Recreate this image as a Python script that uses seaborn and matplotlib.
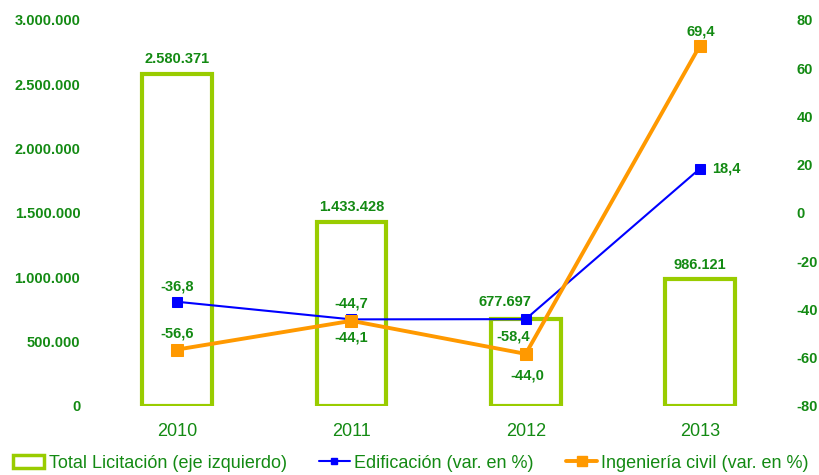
import matplotlib
matplotlib.use("Agg")
import matplotlib.pyplot as plt
import numpy as np
import seaborn as sns
from matplotlib.lines import Line2D
from matplotlib.patches import Patch
from matplotlib.ticker import FuncFormatter, MultipleLocator

# -- Data --
years = ["2010", "2011", "2012", "2013"]
total_licitacion = [2580371, 1433428, 677697, 986121]
edificacion = [-36.8, -44.1, -44.0, 18.4]
ingenieria_civil = [-56.6, -44.7, -58.4, 69.4]

GREEN_TXT = "#138a13"
BAR_EDGE = "#99cc00"
BLUE = "#0000ff"
ORANGE = "#ff9900"

sns.set_style("white")
plt.rcParams["font.family"] = ["Liberation Sans", "DejaVu Sans"]
plt.rcParams["axes.unicode_minus"] = False

fig = plt.figure(figsize=(8.19, 4.75), dpi=100)
ax = fig.add_axes([0.110, 0.1453, 0.851, 0.8126])

sns.barplot(x=years, y=total_licitacion, color=BAR_EDGE, fill=False,
            linewidth=3, width=0.4, ax=ax)
ax.set_ylim(0, 3000000)
ax.set_xlim(-0.5, 3.5)
ax.yaxis.set_major_locator(MultipleLocator(500000))
ax.yaxis.set_major_formatter(FuncFormatter(lambda v, p: f"{int(v):,}".replace(",", ".")))
ax.set_xlabel("")
ax.set_ylabel("")

ax2 = ax.twinx()
x = np.arange(len(years))
sns.lineplot(x=x, y=edificacion, color=BLUE, linewidth=1.5, marker="s",
             markersize=7, markeredgecolor=BLUE, ax=ax2)
sns.lineplot(x=x, y=ingenieria_civil, color=ORANGE, linewidth=2.8, marker="s",
             markersize=9, markeredgecolor=ORANGE, ax=ax2)
ax2.set_ylim(-80, 80)
ax2.yaxis.set_major_locator(MultipleLocator(20))
ax2.yaxis.set_major_formatter(FuncFormatter(lambda v, p: f"{int(v)}"))
ax2.set_xlim(-0.5, 3.5)

for a in (ax, ax2):
    for s in a.spines.values():
        s.set_visible(False)
    a.grid(False)
    a.tick_params(length=0)

ax.tick_params(axis="y", pad=7, labelsize=10.5, labelcolor=GREEN_TXT)
ax.tick_params(axis="x", pad=12, labelsize=13, labelcolor=GREEN_TXT)
ax2.tick_params(axis="y", pad=7, labelsize=10.5, labelcolor=GREEN_TXT)
for lab in ax.get_yticklabels() + ax2.get_yticklabels():
    lab.set_fontweight("bold")

lbl = dict(textcoords="offset pixels", ha="center", va="center",
           fontsize=10.5, fontweight="bold", color=GREEN_TXT)

# bar labels
bar_offsets = [(0, 15), (0, 15), (-21, 17), (0, 14)]
for i, v in enumerate(total_licitacion):
    ax.annotate(f"{v:,}".replace(",", "."), (i, v), xytext=bar_offsets[i], **lbl)

# line labels
edif_offsets = [(0, 15), (0, -18), (2, -56), (26, 0)]
ing_offsets = [(0, 16), (0, 17), (-13, 17), (1, 14)]
for i, v in enumerate(edificacion):
    ax2.annotate(f"{v:.1f}".replace(".", ","), (i, v), xytext=edif_offsets[i], **lbl)
for i, v in enumerate(ingenieria_civil):
    ax2.annotate(f"{v:.1f}".replace(".", ","), (i, v), xytext=ing_offsets[i], **lbl)

handles = [
    Patch(facecolor="none", edgecolor=BAR_EDGE, linewidth=2.5),
    Line2D([], [], color=BLUE, linewidth=1.5, marker="s", markersize=5),
    Line2D([], [], color=ORANGE, linewidth=2.8, marker="s", markersize=7),
]
labels = ["Total Licitación (eje izquierdo)", "Edificación (var. en %)",
          "Ingeniería civil (var. en %)"]
leg = fig.legend(handles, labels, loc="center", bbox_to_anchor=(0.502, 0.025),
                 ncol=3, frameon=False, fontsize=13, handlelength=1.7,
                 handletextpad=0.25, columnspacing=1.8, borderaxespad=0)
for t in leg.get_texts():
    t.set_color(GREEN_TXT)

fig.savefig("out.png", dpi=100)
